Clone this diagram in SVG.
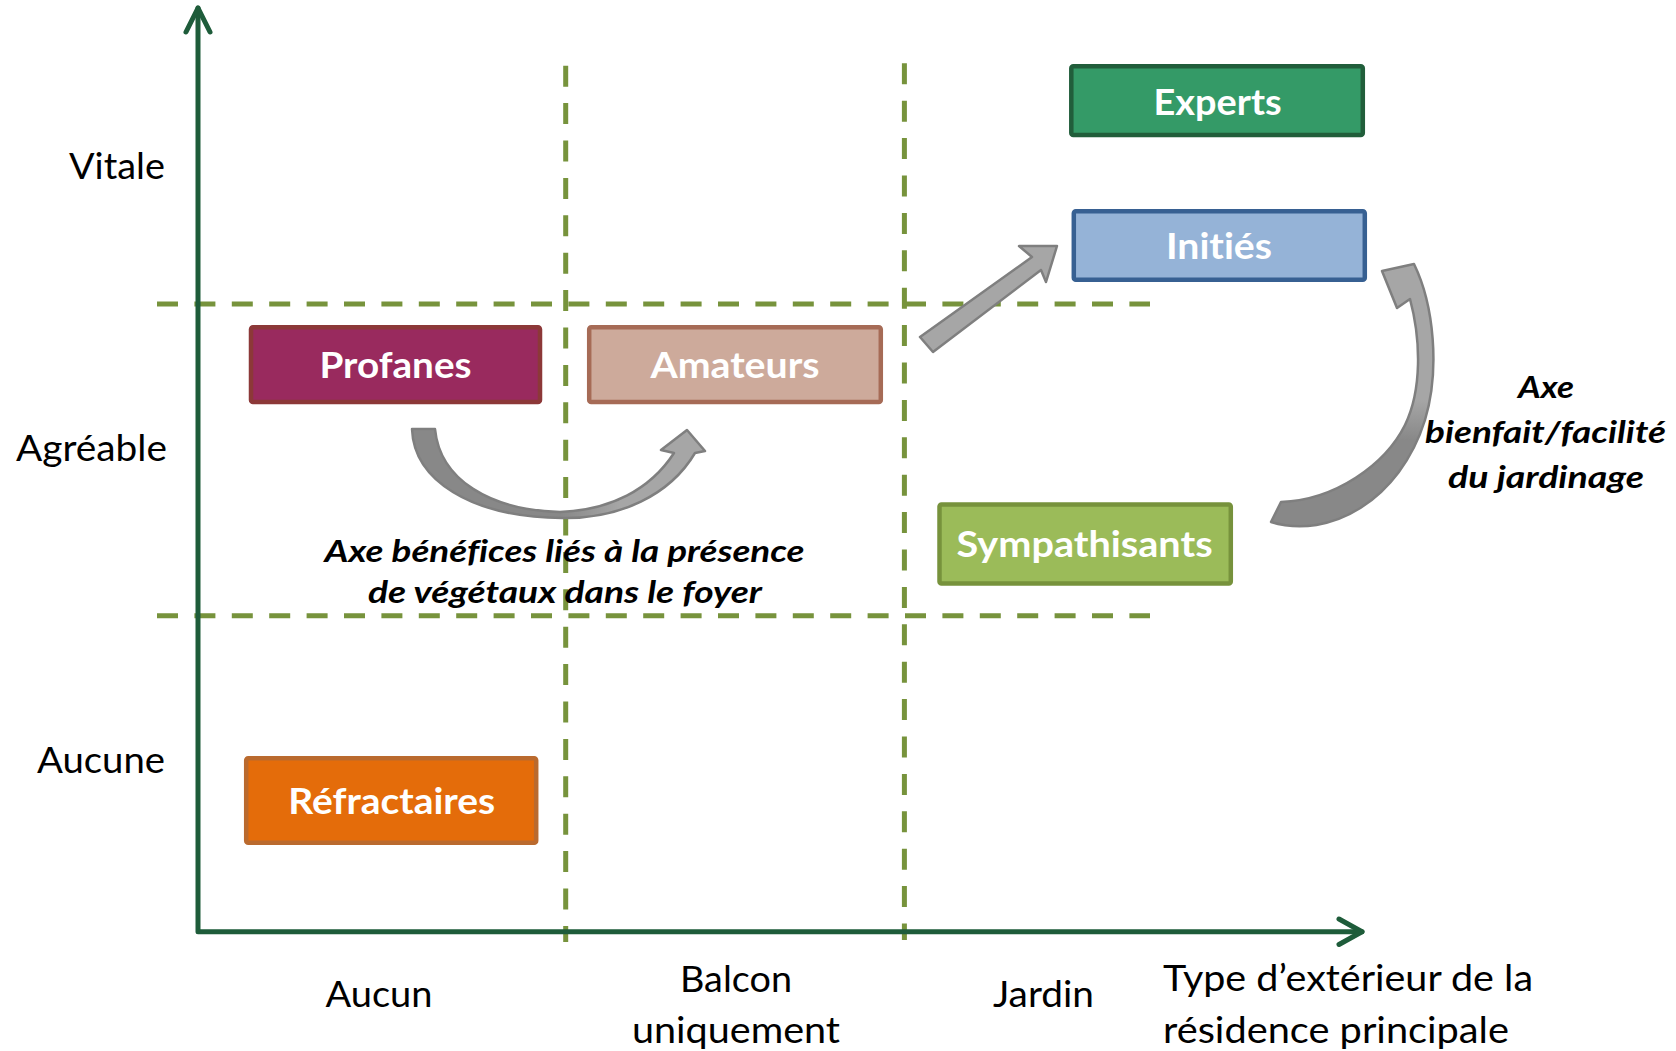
<svg xmlns="http://www.w3.org/2000/svg" width="1676" height="1051" viewBox="0 0 1676 1051">
<style>
text{font-variant-ligatures:none}
.lbl{font-family:Lato,"Liberation Sans",sans-serif;font-size:36px;fill:#000}
.box{stroke-width:4.5}
.bt{font-family:Lato,"Liberation Sans",sans-serif;font-size:36px;font-weight:bold;fill:#fff;text-anchor:middle}
.it{font-family:Lato,"Liberation Sans",sans-serif;font-size:30px;font-weight:bold;font-style:italic;fill:#000;text-anchor:middle}
.dash{stroke:#77933C;stroke-width:5;stroke-dasharray:21 16.4;fill:none}
.axis{stroke:#1E5C3A;stroke-width:5;fill:none;stroke-linecap:round;stroke-linejoin:round}
.blk{stroke:#7F7F7F;stroke-width:2.5;stroke-linejoin:round}
</style>
<defs>
<linearGradient id="gL" gradientUnits="userSpaceOnUse" x1="560" y1="0" x2="620" y2="0">
<stop offset="0" stop-color="#888888"/><stop offset="1" stop-color="#A6A6A6"/>
</linearGradient>
<linearGradient id="gR" gradientUnits="userSpaceOnUse" x1="0" y1="440" x2="0" y2="400">
<stop offset="0" stop-color="#888888"/><stop offset="1" stop-color="#A6A6A6"/>
</linearGradient>
</defs>
<rect width="1676" height="1051" fill="#fff"/>
<g id="grid">
<line class="dash" x1="157" y1="304" x2="1150" y2="304"/>
<line class="dash" x1="157" y1="615.7" x2="1150" y2="615.7"/>
<line class="dash" x1="565.7" y1="65.7" x2="565.7" y2="942"/>
<line class="dash" x1="904.4" y1="63.3" x2="904.4" y2="940"/>
</g>
<g id="axes">
<polyline class="axis" points="198,8 198,931.7 1362,931.7"/>
<polyline class="axis" points="186,32 198,8 210,32"/>
<polyline class="axis" points="1339,919 1362,931.7 1339,944.5"/>
</g>
<g id="axis-labels">
<text class="lbl" x="165" y="179" text-anchor="end" textLength="96" lengthAdjust="spacingAndGlyphs">Vitale</text>
<text class="lbl" x="167" y="461" text-anchor="end" textLength="151" lengthAdjust="spacingAndGlyphs">Agréable</text>
<text class="lbl" x="165" y="772.7" text-anchor="end" textLength="128" lengthAdjust="spacingAndGlyphs">Aucune</text>
<text class="lbl" x="379" y="1007.3" text-anchor="middle" textLength="107" lengthAdjust="spacingAndGlyphs">Aucun</text>
<text class="lbl" x="736" y="991.7" text-anchor="middle" textLength="112" lengthAdjust="spacingAndGlyphs">Balcon</text>
<text class="lbl" x="736" y="1042.7" text-anchor="middle" textLength="208" lengthAdjust="spacingAndGlyphs">uniquement</text>
<text class="lbl" x="1043.5" y="1007" text-anchor="middle" textLength="101" lengthAdjust="spacingAndGlyphs">Jardin</text>
<text class="lbl" x="1163" y="990.7" textLength="370" lengthAdjust="spacingAndGlyphs">Type d’extérieur de la</text>
<text class="lbl" x="1163" y="1042.7" textLength="346" lengthAdjust="spacingAndGlyphs">résidence principale</text>
</g>
<g id="node-experts">
<rect class="box" x="1071.3" y="66.3" width="291.5" height="68.7" rx="2" fill="#349A67" stroke="#215E3B"/>
<text class="bt" x="1217.6" y="115" textLength="128" lengthAdjust="spacingAndGlyphs">Experts</text>
</g>
<g id="node-inities">
<rect class="box" x="1073.8" y="211.2" width="291" height="68.6" rx="2" fill="#95B3D7" stroke="#376092"/>
<text class="bt" x="1219" y="259.3" textLength="106" lengthAdjust="spacingAndGlyphs">Initiés</text>
</g>
<g id="node-profanes">
<rect class="box" x="251" y="327.2" width="289" height="74.9" rx="2" fill="#992A5E" stroke="#8C3838"/>
<text class="bt" x="395.5" y="378.3" textLength="152" lengthAdjust="spacingAndGlyphs">Profanes</text>
</g>
<g id="node-amateurs">
<rect class="box" x="589.2" y="327.2" width="291.6" height="74.9" rx="2" fill="#CDAA9B" stroke="#A66B56"/>
<text class="bt" x="735" y="378.3" textLength="169" lengthAdjust="spacingAndGlyphs">Amateurs</text>
</g>
<g id="node-sympathisants">
<rect class="box" x="939.5" y="504.5" width="291.3" height="79" rx="2" fill="#9BBB59" stroke="#77923C"/>
<text class="bt" x="1084.6" y="556.7" textLength="256" lengthAdjust="spacingAndGlyphs">Sympathisants</text>
</g>
<g id="node-refractaires">
<rect class="box" x="246.2" y="758.2" width="290" height="84.6" rx="2" fill="#E46C0A" stroke="#BA6A2E"/>
<text class="bt" x="391.7" y="814" textLength="207" lengthAdjust="spacingAndGlyphs">Réfractaires</text>
</g>
<g id="connectors">
<path class="blk" fill="url(#gL)" d="M412,429 C414,480 470,517 562,518 C620,519 670,495 695,453 L705,451 L687,430 L661,450 L674,453 C650,490 610,510 560,512 C490,510 440,480 435,429 Z"/>
<polygon class="blk" fill="#A6A6A6" stroke-width="3" stroke-linejoin="miter" points="920,337 1032,257 1019,246 1057,246 1046,282 1041,270 933,352"/>
<path class="blk" fill="url(#gR)" stroke-linejoin="miter" d="M1271,522 C1330,540 1400,500 1425,420 C1440,370 1434,305 1414,264 L1382,271 L1397,308 L1410,299 C1421,340 1422,390 1405,425 C1385,465 1335,500 1281,502 Z"/>
</g>
<g id="axis-notes">
<text class="it" x="564.5" y="561.7" textLength="480" lengthAdjust="spacingAndGlyphs">Axe bénéfices liés à la présence</text>
<text class="it" x="565" y="603.3" textLength="394" lengthAdjust="spacingAndGlyphs">de végétaux dans le foyer</text>
<text class="it" x="1546" y="398.3" textLength="56" lengthAdjust="spacingAndGlyphs">Axe</text>
<text class="it" x="1545.5" y="443.3" textLength="241" lengthAdjust="spacingAndGlyphs">bienfait/facilité</text>
<text class="it" x="1546" y="488.3" textLength="196" lengthAdjust="spacingAndGlyphs">du jardinage</text>
</g>
</svg>
